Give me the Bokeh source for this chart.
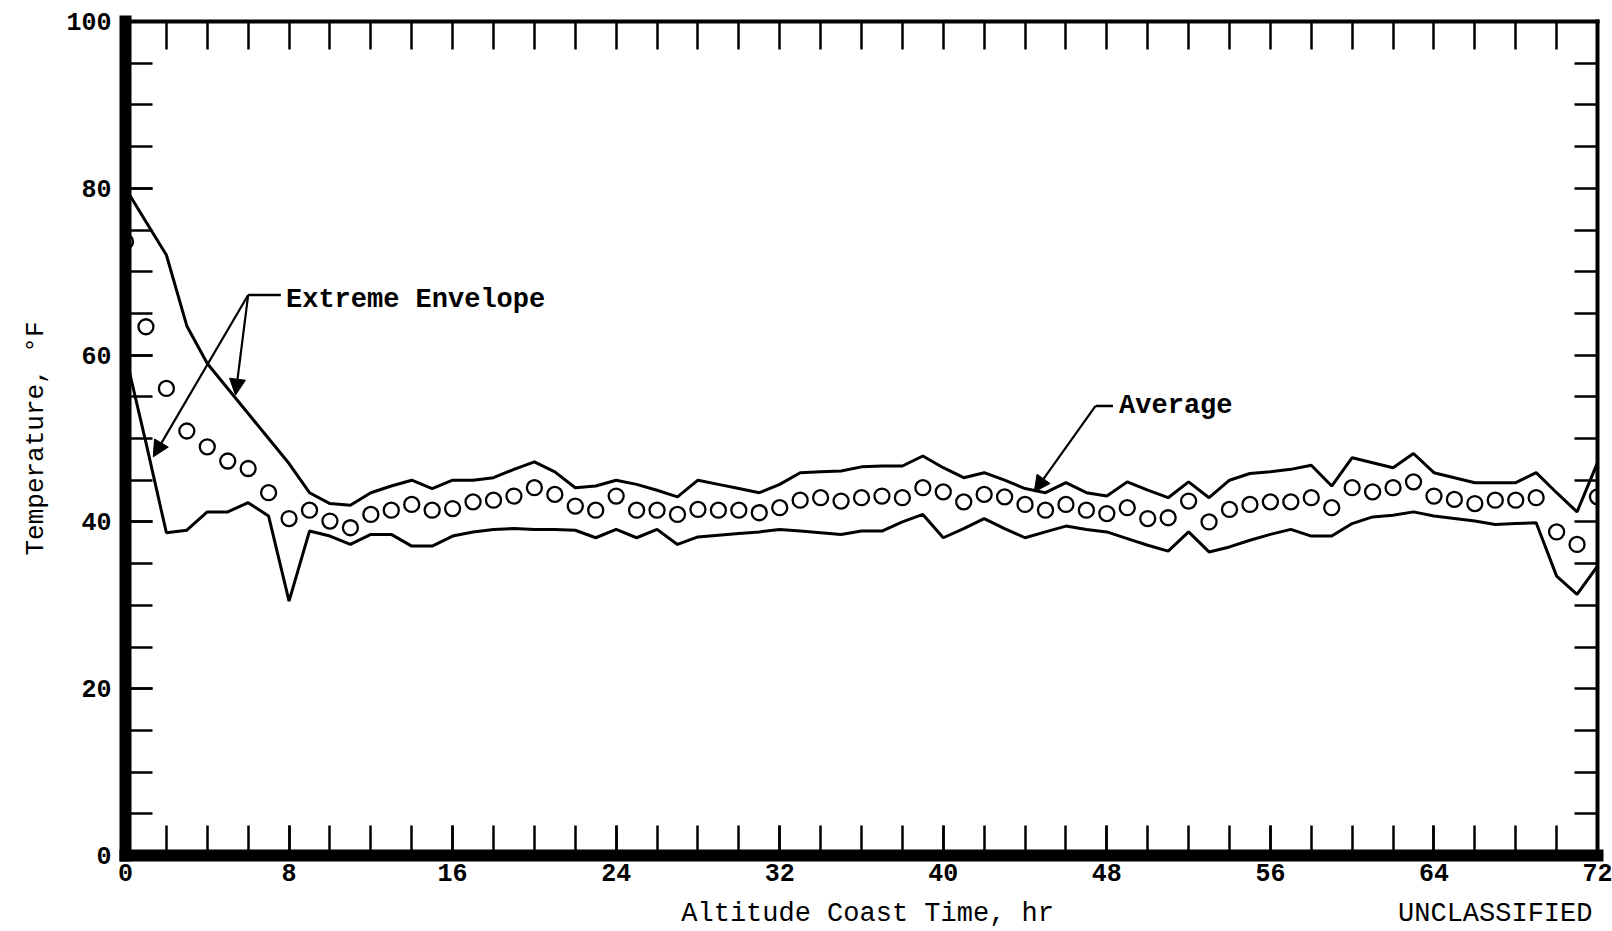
from bokeh.plotting import figure
from bokeh.models import Range1d, LinearAxis, FixedTicker, Arrow, NormalHead, Label, ColumnDataSource
from bokeh.embed import file_html
from bokeh.resources import INLINE

# ---------------- data ----------------
hours = list(range(0, 73))

average = [73.6, 63.4, 56.0, 50.9, 49.0, 47.3, 46.4, 43.5, 40.4, 41.4,
           40.1, 39.3, 40.9, 41.4, 42.1, 41.4, 41.6, 42.4, 42.6, 43.1,
           44.1, 43.3, 41.9, 41.4, 43.1, 41.4, 41.4, 40.9, 41.5, 41.4,
           41.4, 41.1, 41.7, 42.6, 42.9, 42.5, 42.9, 43.1, 42.9, 44.1,
           43.6, 42.4, 43.3, 43.0, 42.1, 41.4, 42.1, 41.4, 41.0, 41.7,
           40.4, 40.5, 42.5, 40.0, 41.5, 42.1, 42.4, 42.4, 42.9, 41.7,
           44.1, 43.6, 44.1, 44.8, 43.1, 42.7, 42.2, 42.6, 42.6, 42.9,
           38.8, 37.3, 43.0]

upper = [80.0, 76.0, 72.0, 63.5, 59.0, 56.0, 53.0, 50.0, 47.0, 43.5,
         42.2, 42.0, 43.5, 44.3, 45.0, 44.0, 45.0, 45.0, 45.3, 46.3,
         47.2, 46.0, 44.1, 44.3, 45.0, 44.5, 43.8, 43.0, 45.0, 44.5,
         44.0, 43.5, 44.5, 45.9, 46.0, 46.1, 46.6, 46.7, 46.7, 47.9,
         46.5, 45.3, 45.9, 45.0, 44.0, 43.5, 44.7, 43.5, 43.1, 44.8,
         43.8, 42.9, 44.8, 42.9, 45.0, 45.8, 46.0, 46.3, 46.8, 44.3,
         47.7, 47.1, 46.5, 48.2, 45.9, 45.3, 44.7, 44.7, 44.7, 45.9,
         43.5, 41.2, 47.1]

lower = [60.0, 49.5, 38.7, 39.0, 41.2, 41.2, 42.3, 40.7, 30.5, 38.9,
         38.3, 37.3, 38.5, 38.5, 37.1, 37.1, 38.3, 38.8, 39.1, 39.2,
         39.1, 39.1, 39.0, 38.1, 39.1, 38.1, 39.1, 37.3, 38.2, 38.4,
         38.6, 38.8, 39.1, 38.9, 38.7, 38.5, 38.9, 38.9, 40.0, 40.9,
         38.1, 39.2, 40.4, 39.2, 38.1, 38.8, 39.5, 39.1, 38.8, 38.0,
         37.2, 36.5, 38.8, 36.4, 37.0, 37.8, 38.5, 39.1, 38.3, 38.3,
         39.8, 40.6, 40.8, 41.2, 40.7, 40.4, 40.1, 39.7, 39.8, 39.9,
         33.5, 31.3, 34.7]

x_ticks = list(range(0, 73, 8))
x_minor_ticks = list(range(0, 73, 2))
y_ticks = list(range(0, 101, 20))
y_minor_ticks = list(range(0, 101, 5))

x_title = "Altitude Coast Time, hr"
y_title = "Temperature, \u00b0F"
stamp_text = "UNCLASSIFIED"

# centres (in hours) of the texts in the bottom caption row
caption_x = [36.3, 67.0]
caption_text = [x_title, stamp_text]

# annotation anchors (data units)
env_text = "Extreme Envelope"
env_text_pos = [7.85, 66.6]
env_junction = [6.0, 67.2]
env_bar_end = [7.6, 67.2]
env_tips_x = [5.38, 1.36]
env_tips_y = [55.2, 47.8]

avg_text = "Average"
avg_text_pos = [48.6, 53.9]
avg_junction = [47.45, 53.9]
avg_bar_end = [48.3, 53.9]
avg_tip = [44.45, 43.6]

# ---------------- figure ----------------
p = figure(width=1612, height=931, output_backend="svg", toolbar_location=None,
           title=None, x_range=Range1d(0, 72), y_range=Range1d(0, 100),
           x_axis_location=None, y_axis_location=None,
           min_border_left=125, min_border_right=15, min_border_top=21,
           min_border_bottom=76)
p.outline_line_color = None
p.xgrid.visible = False
p.ygrid.visible = False
p.background_fill_color = "white"
p.border_fill_color = "white"

LABEL_FONT = "Liberation Mono"

def style_axis(ax, width, tick_in):
    ax.axis_line_color = "black"
    ax.axis_line_width = width
    ax.axis_line_cap = "square"
    ax.major_tick_in = tick_in
    ax.major_tick_out = 0
    ax.minor_tick_in = tick_in
    ax.minor_tick_out = 0
    ax.major_tick_line_width = 2.5
    ax.minor_tick_line_width = 2.5
    ax.major_tick_line_color = "black"
    ax.minor_tick_line_color = "black"

bottom = LinearAxis(ticker=FixedTicker(ticks=x_ticks, minor_ticks=x_minor_ticks))
style_axis(bottom, 12, 30)
bottom.major_label_text_font = LABEL_FONT
bottom.major_label_text_font_style = "bold"
bottom.major_label_text_font_size = "25px"
bottom.major_label_text_color = "black"
bottom.major_label_standoff = 8
p.add_layout(bottom, "below")

# caption row under the tick labels: axis title and the stamp
caption = LinearAxis(ticker=FixedTicker(ticks=caption_x, minor_ticks=[]),
                     major_label_overrides={v: t for v, t in zip(caption_x, caption_text)})
caption.axis_line_color = None
caption.major_tick_line_color = None
caption.minor_tick_line_color = None
caption.major_tick_in = 0
caption.major_tick_out = 0
caption.minor_tick_in = 0
caption.minor_tick_out = 0
caption.major_label_text_font = LABEL_FONT
caption.major_label_text_font_style = "normal"
caption.major_label_text_font_size = "27px"
caption.major_label_text_color = "black"
caption.major_label_standoff = 15
p.add_layout(caption, "below")

left = LinearAxis(ticker=FixedTicker(ticks=y_ticks, minor_ticks=y_minor_ticks))
style_axis(left, 12, 27)
left.major_label_text_font = LABEL_FONT
left.major_label_text_font_style = "bold"
left.major_label_text_font_size = "25px"
left.major_label_text_color = "black"
left.major_label_standoff = 14
left.axis_label = y_title
left.axis_label_text_font = LABEL_FONT
left.axis_label_text_font_style = "normal"
left.axis_label_text_font_size = "26px"
left.axis_label_text_color = "black"
left.axis_label_standoff = 12
p.add_layout(left, "left")

# top and right frame lines with inward ticks, no labels
top = LinearAxis(ticker=FixedTicker(ticks=x_minor_ticks, minor_ticks=[]))
style_axis(top, 4, 28)
top.major_label_text_color = None
top.major_label_text_font_size = "6px"
top.major_label_standoff = 0
p.add_layout(top, "above")

right = LinearAxis(ticker=FixedTicker(ticks=y_minor_ticks, minor_ticks=[]))
style_axis(right, 4, 23)
right.major_label_text_color = None
right.major_label_text_font_size = "4px"
right.major_label_standoff = 0
p.add_layout(right, "right")

src = ColumnDataSource(dict(h=hours, avg=average, up=upper, lo=lower))
p.line("h", "up", source=src, line_color="black", line_width=3)
p.line("h", "lo", source=src, line_color="black", line_width=3)
p.scatter("h", "avg", source=src, marker="circle", size=15,
          fill_color="white", line_color="black", line_width=2.3)

# Extreme Envelope annotation
p.segment(x0=[env_junction[0]], y0=[env_junction[1]], x1=[env_bar_end[0]], y1=[env_bar_end[1]],
          line_color="black", line_width=2.5)
for tx, ty in zip(env_tips_x, env_tips_y):
    p.add_layout(Arrow(end=NormalHead(size=16, fill_color="black", line_color="black"),
                       x_start=env_junction[0], y_start=env_junction[1], x_end=tx, y_end=ty,
                       line_color="black", line_width=2.2))
p.add_layout(Label(x=env_text_pos[0], y=env_text_pos[1], text=env_text,
                   text_font=LABEL_FONT, text_font_style="bold", text_font_size="27px",
                   text_baseline="middle", text_color="black"))

# Average annotation
p.segment(x0=[avg_junction[0]], y0=[avg_junction[1]], x1=[avg_bar_end[0]], y1=[avg_bar_end[1]],
          line_color="black", line_width=2.5)
p.add_layout(Arrow(end=NormalHead(size=16, fill_color="black", line_color="black"),
                   x_start=avg_junction[0], y_start=avg_junction[1], x_end=avg_tip[0], y_end=avg_tip[1],
                   line_color="black", line_width=2.2))
p.add_layout(Label(x=avg_text_pos[0], y=avg_text_pos[1], text=avg_text,
                   text_font=LABEL_FONT, text_font_style="bold", text_font_size="27px",
                   text_baseline="middle", text_color="black"))

open("out.html", "w").write(file_html(p, INLINE))
